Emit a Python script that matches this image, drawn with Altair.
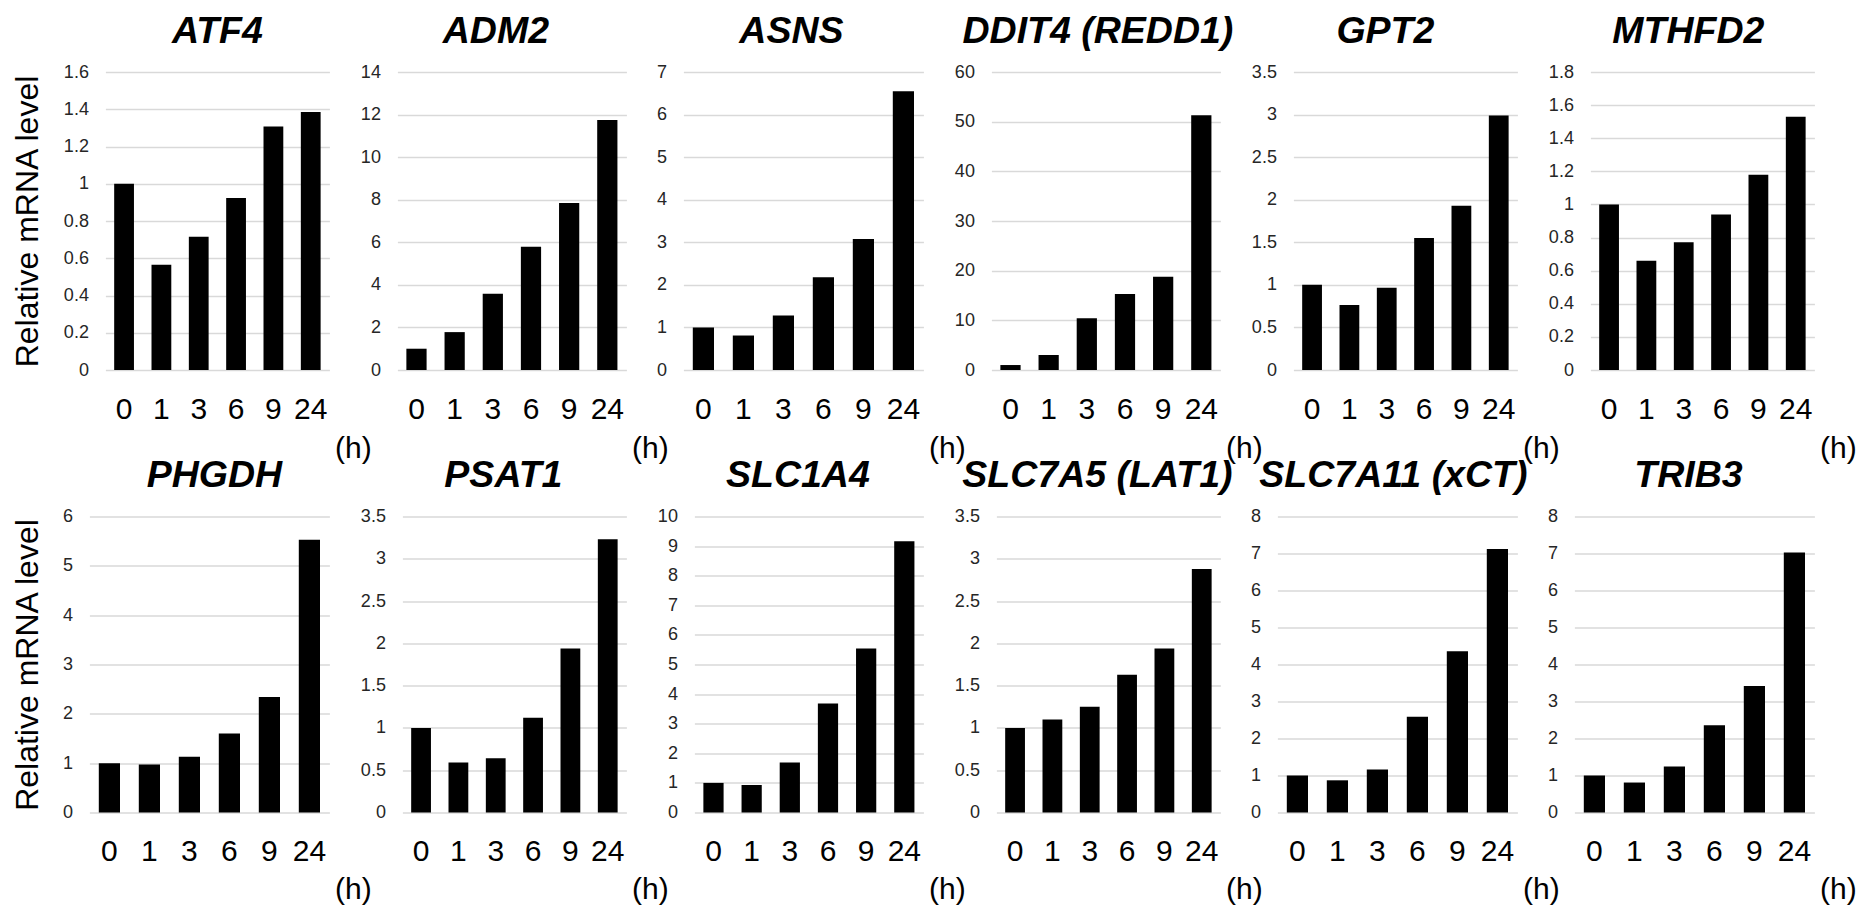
import altair as alt
import pandas as pd

FONT = "Liberation Sans"

times = ["0", "1", "3", "6", "9", "24"]
unit_label = "(h)"
y_title = "Relative mRNA level"

genes = ["ATF4", "ADM2", "ASNS", "DDIT4 (REDD1)", "GPT2", "MTHFD2",
         "PHGDH", "PSAT1", "SLC1A4", "SLC7A5 (LAT1)", "SLC7A11 (xCT)", "TRIB3"]

atf4 = [1.0, 0.565, 0.715, 0.923, 1.308, 1.385]
adm2 = [1.0, 1.78, 3.58, 5.79, 7.85, 11.74]
asns = [1.0, 0.81, 1.28, 2.18, 3.08, 6.55]
ddit4 = [1.0, 3.0, 10.4, 15.3, 18.8, 51.3]
gpt2 = [1.0, 0.764, 0.965, 1.55, 1.93, 2.99]
mthfd2 = [1.0, 0.66, 0.772, 0.94, 1.18, 1.53]
phgdh = [1.0, 0.975, 1.13, 1.60, 2.34, 5.53]
psat1 = [1.0, 0.59, 0.64, 1.12, 1.94, 3.23]
slc1a4 = [1.0, 0.93, 1.69, 3.68, 5.54, 9.16]
slc7a5 = [1.0, 1.10, 1.25, 1.63, 1.94, 2.88]
slc7a11 = [1.0, 0.87, 1.16, 2.59, 4.36, 7.12]
trib3 = [1.0, 0.81, 1.24, 2.36, 3.42, 7.03]

series = [atf4, adm2, asns, ddit4, gpt2, mthfd2,
          phgdh, psat1, slc1a4, slc7a5, slc7a11, trib3]

y_max = [1.6, 14, 7, 60, 3.5, 1.8, 6, 3.5, 10, 3.5, 8, 8]
y_step = [0.2, 2, 1, 10, 0.5, 0.2, 1, 0.5, 1, 0.5, 1, 1]

# layout (pixels)
P = 296.4                      # column pitch
plot_w = [224, 229, 240, 229, 224, 224,
          240, 224, 229, 224, 240, 240]
title_shift = [0, -16, -12, -8, -20, -14,
               5, -11, -11, -11, -4, -6]
row_h = [298, 296]
h_dy = [79, 77.5]
first_extent = [57.5, 41.5]


def panel(i):
    row = i // 6
    col = i % 6
    w = plot_w[i]
    h = row_h[row]
    n = int(round(y_max[i] / y_step[i]))
    ticks = [round(k * y_step[i], 3) for k in range(n + 1)]
    df = pd.DataFrame({"t": times, "v": series[i]})

    yaxis_kw = dict(
        values=ticks, format=".1~f", orient="left", offset=-(P - w),
        grid=True, gridColor="#d9d9d9", gridWidth=1.3,
        domain=False, ticks=False, labelFontSize=18, labelFont=FONT,
        labelPadding=17, labelColor="#262626",
    )
    if col == 0:
        yaxis_kw.update(title=y_title, titleFontSize=32, titleFont=FONT,
                        titleFontWeight="normal", titleColor="black",
                        titlePadding=3.5, minExtent=first_extent[row],
                        maxExtent=first_extent[row])
    else:
        yaxis_kw.update(title=None)

    x = alt.X("t:N", sort=times, title=None,
              scale=alt.Scale(range=[P - w, P], paddingInner=0, paddingOuter=0),
              axis=alt.Axis(labelFontSize=30, labelFont=FONT, labelColor="black",
                            labelPadding=24, labelAngle=0, domain=False,
                            ticks=False, grid=False))
    y = alt.Y("v:Q", scale=alt.Scale(domain=[0, y_max[i]], nice=False, zero=True),
              axis=alt.Axis(**yaxis_kw))

    bars = alt.Chart(df).mark_bar(color="black", width={"band": 0.53}).encode(x=x, y=y)
    htext = alt.Chart(pd.DataFrame({"u": [unit_label]})).mark_text(
        fontSize=30, font=FONT, color="black", align="center", baseline="middle"
    ).encode(x=alt.value(P + 24), y=alt.value(h + h_dy[row]), text="u:N")

    return alt.layer(bars, htext).properties(
        width=P, height=h,
        title=alt.TitleParams(text=genes[i], fontSize=37.5, font=FONT,
                              fontStyle="italic", fontWeight="bold",
                              anchor="middle", frame="group",
                              dx=P / 2 - w / 2 + title_shift[i], offset=13,
                              color="black"),
    )


chart = alt.concat(
    *[panel(i) for i in range(12)], columns=6,
    spacing={"row": 146.5, "column": 0}, bounds="flush",
).properties(
    padding={"left": 11, "top": 12, "right": 0, "bottom": 0},
    background="white",
).configure_view(stroke=None)

chart.save("out.html", embed_options={"renderer": "svg", "actions": False})
